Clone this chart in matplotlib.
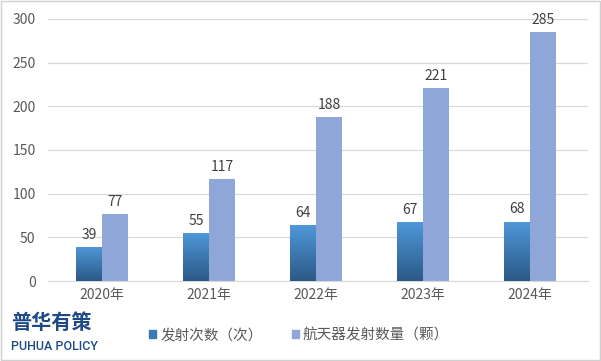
import matplotlib
matplotlib.use("Agg")
import matplotlib.pyplot as plt
import numpy as np
from matplotlib.colors import LinearSegmentedColormap
from matplotlib.patches import Rectangle

plt.rcParams['font.family'] = ['Noto Sans CJK SC', 'DejaVu Sans']

categories = ["2020年", "2021年", "2022年", "2023年", "2024年"]
launches = [39, 55, 64, 67, 68]
spacecraft = [77, 117, 188, 221, 285]
series_names = ["发射次数（次）", "航天器发射数量（颗）"]
yticks = [0, 50, 100, 150, 200, 250, 300]

fig = plt.figure(figsize=(6.01, 3.61), dpi=100)
ax = fig.add_axes([0.08, 0.2216, 0.898, 0.7258])

x = np.arange(len(categories))
w = 0.24
b1 = ax.bar(x - w / 2, launches, w, color="#3f7fc0", zorder=2, label=series_names[0])
b2 = ax.bar(x + w / 2, spacecraft, w, color="#8fa6d8", zorder=2, label=series_names[1])

cmap = LinearSegmentedColormap.from_list("g", ["#2b5986", "#4f98da"])
grad = np.linspace(0, 1, 256).reshape(-1, 1)
for bar in b1:
    x0, y0 = bar.get_x(), bar.get_y()
    bw, bh = bar.get_width(), bar.get_height()
    im = ax.imshow(grad, extent=[x0, x0 + bw, y0, y0 + bh], origin="lower",
                   cmap=cmap, aspect="auto", zorder=3)
    im.set_clip_path(bar)
    bar.set_facecolor("none")

for xi, v in zip(x, launches):
    ax.text(xi - w / 2, v + 6, str(v), ha="center", va="bottom", fontsize=10, color="#404040")
for xi, v in zip(x, spacecraft):
    ax.text(xi + w / 2, v + 6, str(v), ha="center", va="bottom", fontsize=10, color="#404040")

ax.set_xlim(-0.505, 4.54)
ax.set_ylim(0, 300)
ax.set_yticks(yticks)
ax.set_xticks(x)
ax.set_xticklabels(categories)
ax.tick_params(axis="both", length=0, labelsize=10, colors="#595959")
ax.tick_params(axis="y", pad=9)
ax.tick_params(axis="x", pad=5)
ax.yaxis.grid(True, color="#d9d9d9", linewidth=0.9, zorder=0)
ax.set_axisbelow(True)
for s in ["top", "right", "left"]:
    ax.spines[s].set_visible(False)
ax.spines["bottom"].set_color("#d9d9d9")

handles = [Rectangle((0, 0), 1, 1, color="#3a78b8"), Rectangle((0, 0), 1, 1, color="#8fa6d8")]
leg = fig.legend(handles, series_names, loc="center", bbox_to_anchor=(0.4975, 0.072), ncol=2,
                 frameon=False, fontsize=10.5, handlelength=0.5, handleheight=0.5,
                 handletextpad=0.25, columnspacing=2.0, labelcolor="#595959")

fig.text(0.018, 0.107, "普华有策", fontsize=14.5, fontweight="bold", color="#1d4a87", ha="left", va="center")
fig.text(0.019, 0.040, "PUHUA POLICY", fontsize=9, fontweight="medium", color="#1d4a87", ha="left", va="center",
         family=["Roboto", "DejaVu Sans"])

fig.patches.append(Rectangle((0.001, 0.002), 0.997, 0.995, transform=fig.transFigure,
                             fill=False, edgecolor="#d0d0d0", linewidth=1))

fig.savefig("out.png", dpi=100)
